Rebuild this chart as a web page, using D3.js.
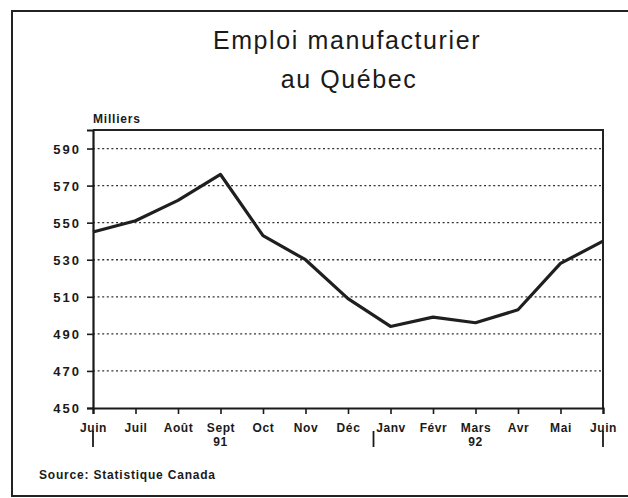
<!DOCTYPE html>
<meta charset="utf-8">
<script src="https://cdn.jsdelivr.net/npm/d3@7"></script>
<style>
  body { margin: 0; background: #fff; }
  svg { display: block; }
  .lbl { font-family: "Liberation Sans", Arial, sans-serif; font-weight: bold; fill: #1a1a1a; }
</style>
<div id="chart"></div>
<script>
// months along the x axis, June 1991 to June 1992
var months = ["Juin", "Juil", "Août", "Sept", "Oct", "Nov", "Déc", "Janv", "Févr", "Mars", "Avr", "Mai", "Juin"];
// employment, thousands
var emploi = [545, 551, 562, 576, 543, 530, 509, 494, 499, 496, 503, 528, 540];
var yTicks = [450, 470, 490, 510, 530, 550, 570, 590];
// year labels sit under a month, separators sit at the year edges
var yearLabels = [{ year: "91", at: 3 }, { year: "92", at: 9 }];
var yearBreaks = [0, 6.6, 12];

var W = 628, H = 498;
var margin = { top: 130, right: 25, bottom: 90, left: 93 },
    width = 603 - margin.left,
    height = 408 - margin.top;

var svg = d3.select("#chart").append("svg")
  .attr("width", W)
  .attr("height", H);

// outer frame (right side runs off the page in the scan)
svg.append("rect")
  .attr("x", 12).attr("y", 11)
  .attr("width", 650).attr("height", 485)
  .attr("fill", "none")
  .attr("stroke", "#222")
  .attr("stroke-width", 2);

// title
var title = svg.append("text")
  .attr("text-anchor", "middle")
  .attr("font-family", "Liberation Sans, Arial, sans-serif")
  .attr("font-size", 25)
  .attr("letter-spacing", 1.6)
  .attr("fill", "#1a1a1a");
title.append("tspan").attr("x", 347).attr("y", 49).text("Emploi manufacturier");
title.append("tspan").attr("x", 349).attr("y", 88).text("au Québec");

var g = svg.append("g")
  .attr("transform", "translate(" + margin.left + "," + margin.top + ")");

var x = d3.scalePoint()
  .domain(d3.range(months.length))
  .range([0, width]);
var step = x.step();

var y = d3.scaleLinear()
  .domain([450, 600])
  .range([height, 0]);

// dotted grid lines
g.append("g")
  .selectAll("line")
  .data(yTicks.filter(function(d) { return d > 450; }))
  .enter().append("line")
    .attr("x1", 0).attr("x2", width)
    .attr("y1", function(d) { return y(d); })
    .attr("y2", function(d) { return y(d); })
    .attr("stroke", "#333")
    .attr("stroke-width", 1.3)
    .attr("stroke-dasharray", "2,2.6");

// plot box: top and right edges
g.append("path")
  .attr("d", "M0,0H" + width + "V" + height)
  .attr("fill", "none")
  .attr("stroke", "#222")
  .attr("stroke-width", 2);

// y axis
var yAxis = g.append("g")
  .call(d3.axisLeft(y).tickValues(yTicks).tickSize(6).tickPadding(6).tickFormat(d3.format("d")));
yAxis.select(".domain").attr("stroke", "#1a1a1a").attr("stroke-width", 2.2);
yAxis.selectAll(".tick line").attr("stroke", "#1a1a1a").attr("stroke-width", 1.6);
yAxis.selectAll("text")
  .attr("class", "lbl")
  .attr("font-size", 13)
  .attr("letter-spacing", 2)
  .attr("dy", "0.36em");

// x axis
var xAxis = g.append("g")
  .attr("transform", "translate(0," + height + ")")
  .call(d3.axisBottom(x).tickSize(6).tickPadding(9).tickFormat(function(i) { return months[i]; }));
xAxis.select(".domain").attr("stroke", "#1a1a1a").attr("stroke-width", 2.2);
xAxis.selectAll(".tick line").attr("stroke", "#1a1a1a").attr("stroke-width", 1.6);
xAxis.selectAll("text")
  .attr("class", "lbl")
  .attr("font-size", 12)
  .attr("letter-spacing", 0.6);

// year labels and separators
g.selectAll(".year")
  .data(yearLabels)
  .enter().append("text")
    .attr("class", "lbl year")
    .attr("x", function(d) { return x(d.at); })
    .attr("y", height + 38)
    .attr("text-anchor", "middle")
    .attr("font-size", 12)
    .attr("letter-spacing", 0.6)
    .text(function(d) { return d.year; });

g.selectAll(".sep")
  .data(yearBreaks)
  .enter().append("line")
    .attr("class", "sep")
    .attr("x1", function(d) { return d * step; })
    .attr("x2", function(d) { return d * step; })
    .attr("y1", height + 23)
    .attr("y2", height + 39)
    .attr("stroke", "#1a1a1a")
    .attr("stroke-width", 1.8);

// the series
g.append("path")
  .datum(emploi)
  .attr("fill", "none")
  .attr("stroke", "#1f1f1f")
  .attr("stroke-width", 3.2)
  .attr("stroke-linejoin", "round")
  .attr("d", d3.line()
    .x(function(d, i) { return x(i); })
    .y(function(d) { return y(d); }));

// unit and source
svg.append("text")
  .attr("class", "lbl")
  .attr("x", 93).attr("y", 123)
  .attr("font-size", 12)
  .attr("letter-spacing", 0.8)
  .text("Milliers");

svg.append("text")
  .attr("class", "lbl")
  .attr("x", 39).attr("y", 479)
  .attr("font-size", 12)
  .attr("letter-spacing", 0.8)
  .text("Source: Statistique Canada");
</script>
